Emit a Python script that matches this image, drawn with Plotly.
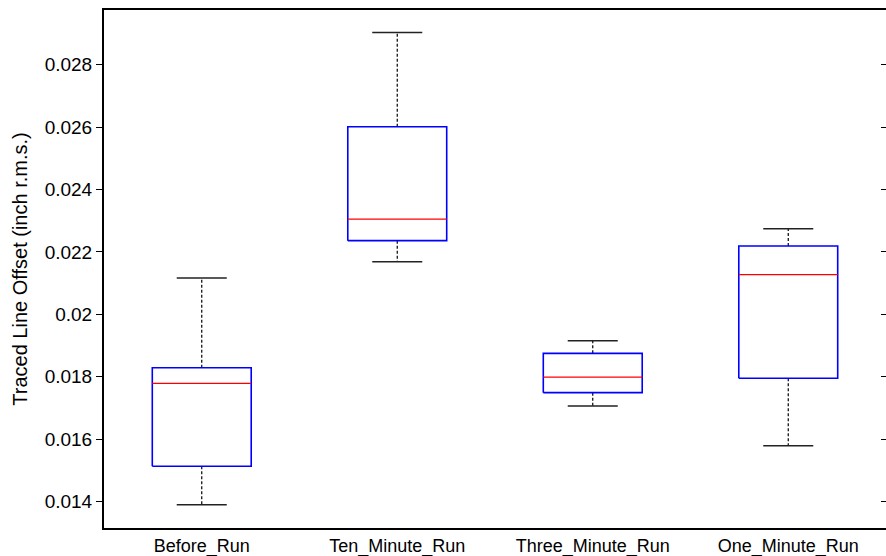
import plotly.graph_objects as go

categories = ["Before_Run", "Ten_Minute_Run", "Three_Minute_Run", "One_Minute_Run"]
lower_whisker = [0.01390, 0.02168, 0.01706, 0.01579]
q1 = [0.01513, 0.02236, 0.01749, 0.01795]
median = [0.01779, 0.02305, 0.01799, 0.02127]
q3 = [0.01829, 0.02601, 0.01875, 0.02219]
upper_whisker = [0.02116, 0.02903, 0.01915, 0.02274]

y_tick_vals = [0.014, 0.016, 0.018, 0.020, 0.022, 0.024, 0.026, 0.028]
y_tick_text = ["0.014", "0.016", "0.018", "0.02", "0.022", "0.024", "0.026", "0.028"]

BOX_HALF = 0.253
CAP_HALF = 0.128
FONT = "Arial, Liberation Sans, sans-serif"

bx, by, wx, wy, cx, cy, mx, my = [], [], [], [], [], [], [], []
for i, cat in enumerate(categories):
    x = i + 1
    bx += [x - BOX_HALF, x + BOX_HALF, x + BOX_HALF, x - BOX_HALF, x - BOX_HALF, None]
    by += [q1[i], q1[i], q3[i], q3[i], q1[i], None]
    wx += [x, x, None, x, x, None]
    wy += [q3[i], upper_whisker[i], None, q1[i], lower_whisker[i], None]
    cx += [x - CAP_HALF, x + CAP_HALF, None, x - CAP_HALF, x + CAP_HALF, None]
    cy += [upper_whisker[i], upper_whisker[i], None, lower_whisker[i], lower_whisker[i], None]
    mx += [x - BOX_HALF, x + BOX_HALF, None]
    my += [median[i], median[i], None]

fig = go.Figure()
fig.add_trace(go.Scatter(x=wx, y=wy, mode="lines", line=dict(color="black", width=1.2, dash="3px,2px"),
                         hoverinfo="skip", showlegend=False))
fig.add_trace(go.Scatter(x=cx, y=cy, mode="lines", line=dict(color="#222222", width=1.5),
                         hoverinfo="skip", showlegend=False))
fig.add_trace(go.Scatter(x=bx, y=by, mode="lines", line=dict(color="blue", width=1.6),
                         hoverinfo="skip", showlegend=False))
fig.add_trace(go.Scatter(x=mx, y=my, mode="lines", line=dict(color="red", width=1.2),
                         hoverinfo="skip", showlegend=False))
# invisible trace to anchor the right-side tick axis
fig.add_trace(go.Scatter(x=[1], y=[median[0]], yaxis="y2", mode="markers",
                         marker=dict(opacity=0), hoverinfo="skip", showlegend=False))

yr = [0.013154, 0.029749]
fig.update_layout(
    width=886, height=556,
    margin=dict(l=104, r=0, t=10, b=28),
    paper_bgcolor="white", plot_bgcolor="white",
    font=dict(family=FONT, size=19, color="black"),
    xaxis=dict(range=[0.5, 4.5], tickvals=[1, 2, 3, 4], ticktext=categories,
               ticks="", showline=True, linecolor="black", linewidth=2, mirror=True,
               showgrid=False, zeroline=False, tickfont=dict(size=18), ticklabelstandoff=0,
               automargin=False),
    yaxis=dict(range=yr, tickvals=y_tick_vals, ticktext=y_tick_text,
               ticks="outside", ticklen=6, tickcolor="black", tickwidth=1,
               showline=True, linecolor="black", linewidth=2, mirror=False,
               showgrid=False, zeroline=False, tickfont=dict(size=19), automargin=False,
               title=dict(text="Traced Line Offset (inch r.m.s.)", font=dict(size=20), standoff=12)),
    yaxis2=dict(range=yr, overlaying="y", side="right", anchor="x", automargin=False,
                tickvals=y_tick_vals, ticks="inside", ticklen=5, tickcolor="black",
                showticklabels=False, showline=False, showgrid=False, zeroline=False),
)

fig.write_html("out.html")
